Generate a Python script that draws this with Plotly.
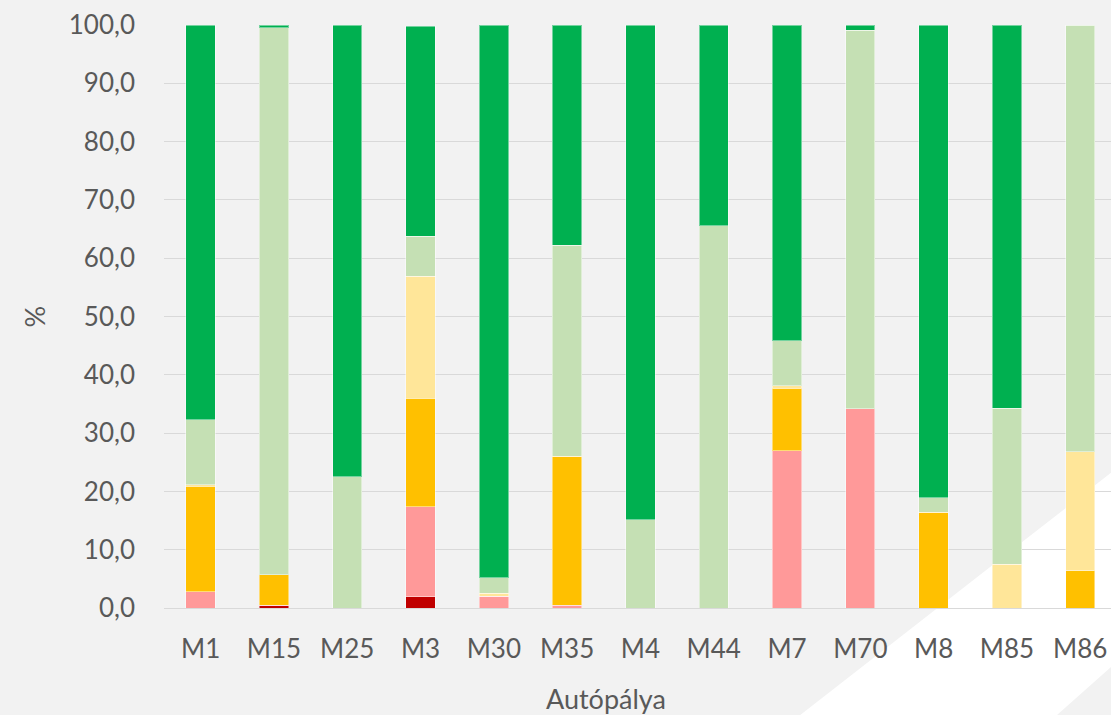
import plotly.graph_objects as go

# ---------------- data ----------------
categories = ["M1", "M15", "M25", "M3", "M30", "M35", "M4", "M44", "M7", "M70", "M8", "M85", "M86"]
dark_red    = [0.0, 0.4, 0.0, 1.9, 0.0, 0.0, 0.0, 0.0, 0.0, 0.0, 0.0, 0.0, 0.0]
pink        = [2.8, 0.1, 0.0, 15.5, 2.0, 0.5, 0.0, 0.0, 27.0, 34.2, 0.0, 0.0, 0.0]
orange      = [18.1, 5.2, 0.0, 18.6, 0.0, 25.5, 0.0, 0.0, 10.7, 0.0, 16.4, 0.0, 6.4]
yellow      = [0.2, 0.0, 0.0, 20.9, 0.5, 0.0, 0.0, 0.0, 0.4, 0.0, 0.0, 7.5, 20.4]
light_green = [11.2, 93.8, 22.5, 6.9, 2.7, 36.2, 15.1, 65.6, 7.7, 64.9, 2.5, 26.8, 73.2]
green       = [67.7, 0.5, 77.5, 36.0, 94.8, 37.8, 84.9, 34.4, 54.2, 0.9, 81.1, 65.7, 0.0]

series = [
    ("1", dark_red, "#C00000"),
    ("2", pink, "#FF9999"),
    ("3", orange, "#FFC000"),
    ("4", yellow, "#FFE699"),
    ("5", light_green, "#C5E0B4"),
    ("6", green, "#00B050"),
]

W, H = 1111, 715
L, R, T, B = 164, 0, 25, 107
PW, PH = W - L - R, H - T - B
TXT = "#595959"
FONT = "Lato"


def px(x):
    return (x - L) / PW


def py(y):
    return (H - B - y) / PH


fig = go.Figure()
for name, vals, col in series:
    fig.add_trace(go.Bar(
        x=categories, y=vals, name=name,
        marker=dict(color=col, line=dict(color="rgba(255,255,255,0.45)", width=1)),
    ))

# decorative white diagonal band (bottom-right)
pts = [(790, 723), (1121, 465), (1121, 658), (1048, 723)]
path = "M " + " L ".join(f"{px(a):.4f},{py(b):.4f}" for a, b in pts) + " Z"
fig.add_shape(type="path", path=path, xref="paper", yref="paper",
              fillcolor="#FFFFFF", line=dict(width=0), layer="below")

fig.add_annotation(text="Autópálya", x=px(606), y=py(698), xref="paper", yref="paper",
                   showarrow=False, font=dict(family=FONT, size=27, color=TXT),
                   xanchor="center", yanchor="middle")
fig.add_annotation(text="%", x=px(34), y=0.5, xref="paper", yref="paper",
                   showarrow=False, textangle=-90, font=dict(family=FONT, size=27, color=TXT),
                   xanchor="center", yanchor="middle")

fig.update_layout(
    width=W, height=H,
    margin=dict(l=L, r=R, t=T, b=B),
    paper_bgcolor="#F2F2F2",
    plot_bgcolor="rgba(0,0,0,0)",
    barmode="stack",
    bargap=0.6,
    showlegend=False,
    separators=", ",
    font=dict(family=FONT, size=26, color=TXT),
    xaxis=dict(type="category", range=[-0.5, 12.42], showgrid=False, showline=False,
               ticks="", ticklabelstandoff=23,
               tickfont=dict(family=FONT, size=26, color=TXT)),
    yaxis=dict(range=[0, 100], dtick=10, tickformat=".1f", showgrid=True,
               gridcolor="#D9D9D9", gridwidth=1.3, zeroline=True, zerolinecolor="#D9D9D9",
               zerolinewidth=1.3, showline=False, ticks="", ticklabelstandoff=28,
               tickfont=dict(family=FONT, size=26, color=TXT)),
)

fig.write_html(
    "out.html",
    config={"displayModeBar": False},
    post_script="document.body.style.margin='0';document.body.style.overflow='hidden';",
)
